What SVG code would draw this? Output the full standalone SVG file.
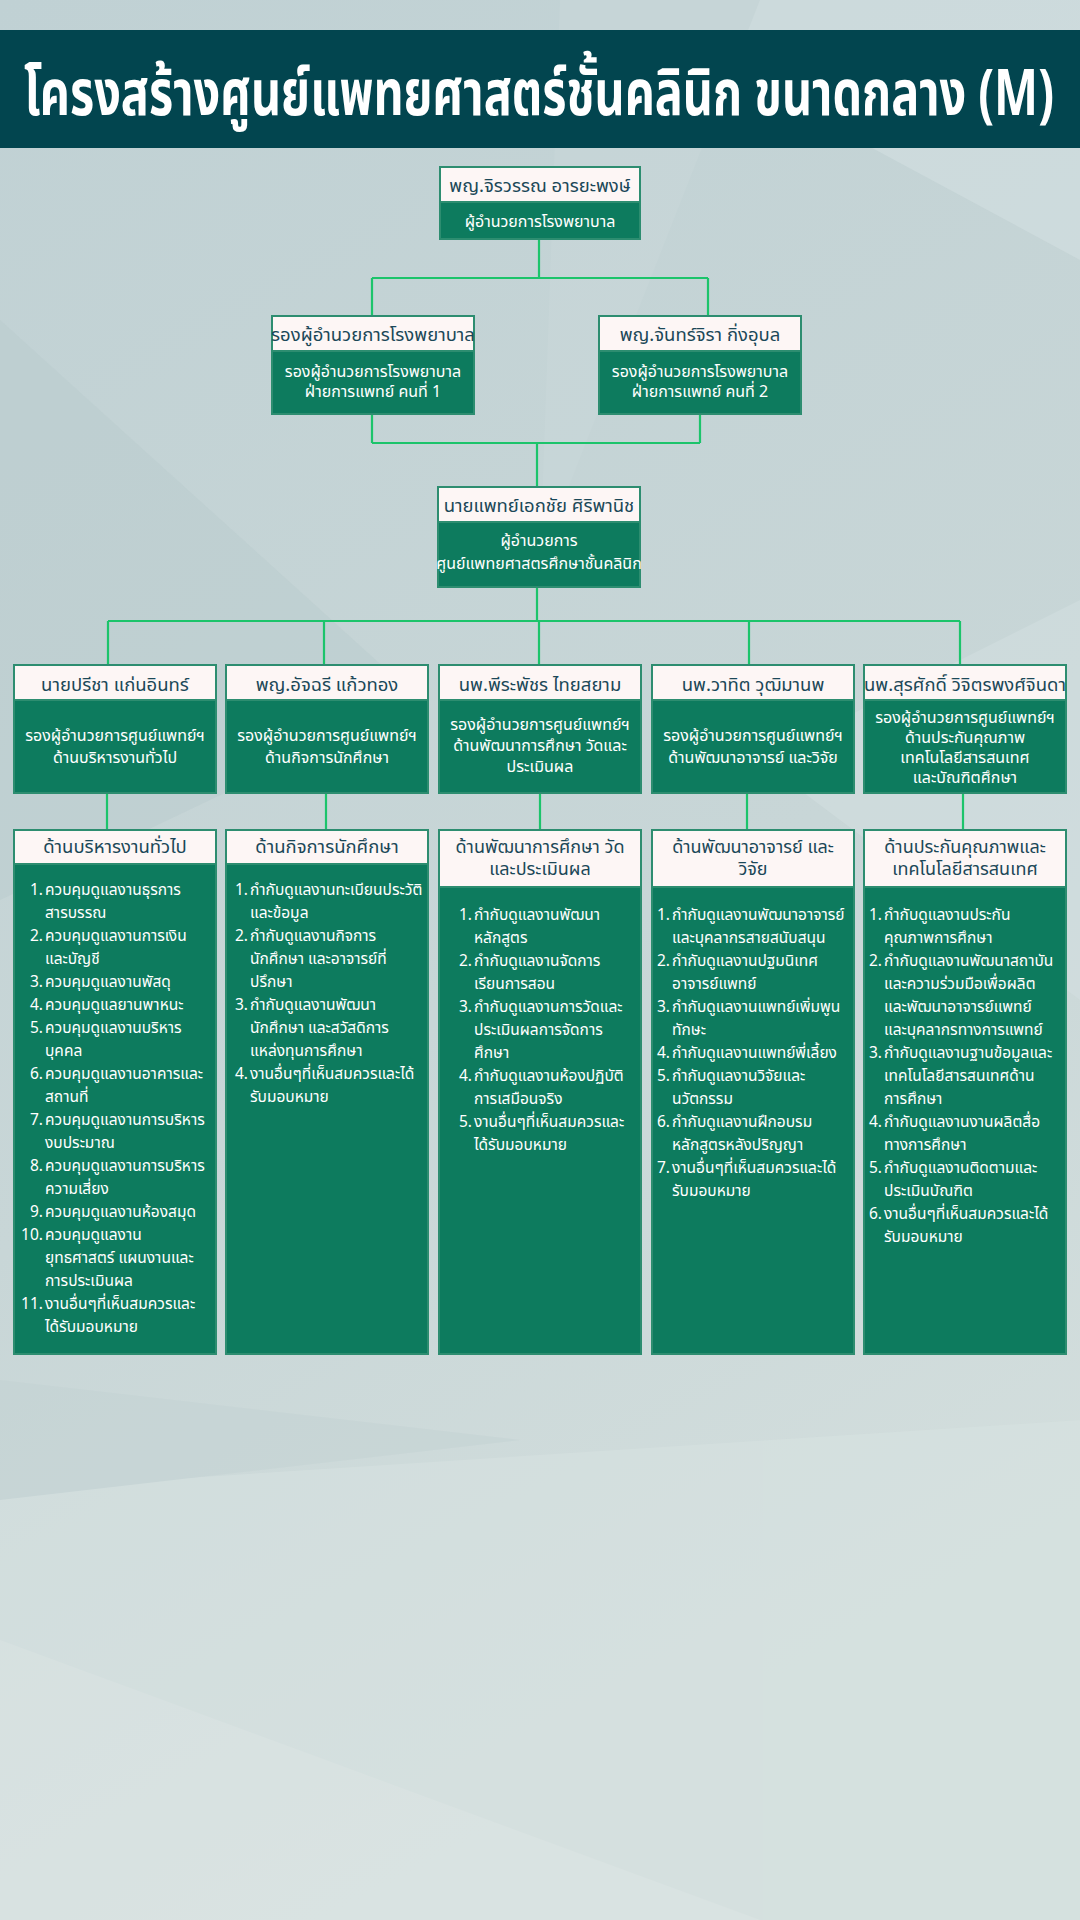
<svg xmlns="http://www.w3.org/2000/svg" width="1080" height="1920" viewBox="0 0 1080 1920">
<defs>
<linearGradient id="bg" x1="0" y1="0" x2="0.3" y2="1">
<stop offset="0" stop-color="#c0d1d4"/>
<stop offset="0.6" stop-color="#c8d6d7"/>
<stop offset="1" stop-color="#d3dedd"/>
</linearGradient>
<style>
text{font-family:"Noto Sans Thai","Noto Sans","DejaVu Sans",sans-serif}
.frame{fill:#0d7b5e;stroke:#2d8d70;stroke-width:2}
.hdr{fill:#fdf6f5;stroke:#2d8d70;stroke-width:2}
.name{font-size:18.5px;fill:#1b4858;text-anchor:middle}
.name2{font-size:18px;fill:#1b4858;text-anchor:middle}
.role{font-size:16px;fill:#ffffff;text-anchor:middle}
.li{font-size:15.5px;fill:#ffffff}
.num{text-anchor:end}
.conn{stroke:#1cc46b;stroke-width:2.2;fill:none}
</style>
</defs>
<rect width="1080" height="1920" fill="url(#bg)"/>
<g id="background-facets" opacity="0.5">
<polygon points="640,0 1080,0 1080,260 820,120" fill="#d6e2e3"/>
<polygon points="0,320 420,700 0,900" fill="#b9cbce"/>
<polygon points="560,0 760,0 540,560" fill="#cad8da"/>
<polygon points="1080,600 1080,1000 760,760" fill="#d4e0e1"/>
<polygon points="0,1490 1080,1420 1080,1920 0,1920" fill="#d8e3e2"/>
<polygon points="0,1640 760,1920 0,1920" fill="#e0e8e7"/>
<polygon points="0,1380 520,1440 0,1500" fill="#c4d3d4"/>
</g>
<g id="title">
<rect x="0" y="30" width="1080" height="118" fill="#02454f"/>
<text x="24" y="115" font-size="64" font-weight="bold" fill="#ffffff" textLength="1030" lengthAdjust="spacingAndGlyphs">โครงสร้างศูนย์แพทยศาสตร์ชั้นคลินิก ขนาดกลาง (M)</text>
</g>
<g id="connectors">
<path class="conn" d="M539,240 V278 M372,278 H708 M372,278 V316 M708,278 V316"/>
<path class="conn" d="M372,414 V443 M700,414 V443 M372,443 H700 M537,443 V487"/>
<path class="conn" d="M537,587 V621 M108,621 H960 M108,621 V665 M324,621 V665 M539,621 V665 M749,621 V665 M960,621 V665"/>
<path class="conn" d="M107,793 V830 M326,793 V830 M540,793 V830 M747,793 V830 M963,793 V830"/>
</g>
<g id="node-director">
<rect class="frame" x="440" y="167" width="200" height="72"/>
<rect class="hdr" x="440" y="167" width="200" height="35"/>
<text class="name" x="540" y="192">พญ.จิรวรรณ อารยะพงษ์</text>
<text class="role" x="540" y="227">ผู้อำนวยการโรงพยาบาล</text>
</g>
<g id="node-deputy-1">
<rect class="frame" x="272" y="316" width="202" height="98"/>
<rect class="hdr" x="272" y="316" width="202" height="35"/>
<text class="name" x="373" y="341">รองผู้อำนวยการโรงพยาบาล</text>
<text class="role" x="373" y="377">รองผู้อำนวยการโรงพยาบาล</text>
<text class="role" x="373" y="397">ฝ่ายการแพทย์ คนที่ 1</text>
</g>
<g id="node-deputy-2">
<rect class="frame" x="599" y="316" width="202" height="98"/>
<rect class="hdr" x="599" y="316" width="202" height="35"/>
<text class="name" x="700" y="341">พญ.จันทร์จิรา กิ่งอุบล</text>
<text class="role" x="700" y="377">รองผู้อำนวยการโรงพยาบาล</text>
<text class="role" x="700" y="397">ฝ่ายการแพทย์ คนที่ 2</text>
</g>
<g id="node-center-director">
<rect class="frame" x="438" y="487" width="202" height="100"/>
<rect class="hdr" x="438" y="487" width="202" height="35"/>
<text class="name" x="539" y="512">นายแพทย์เอกชัย ศิริพานิช</text>
<text class="role" x="539" y="546">ผู้อำนวยการ</text>
<text class="role" x="539" y="569">ศูนย์แพทยศาสตรศึกษาชั้นคลินิก</text>
</g>
<g id="node-vp-1">
<rect class="frame" x="14" y="665" width="202" height="128"/>
<rect class="hdr" x="14" y="665" width="202" height="35"/>
<text class="name" x="115" y="691">นายปรีชา แก่นอินทร์</text>
<text class="role" x="115" y="741">รองผู้อำนวยการศูนย์แพทย์ฯ</text>
<text class="role" x="115" y="763">ด้านบริหารงานทั่วไป</text>
</g>
<g id="node-vp-2">
<rect class="frame" x="226" y="665" width="202" height="128"/>
<rect class="hdr" x="226" y="665" width="202" height="35"/>
<text class="name" x="327" y="691">พญ.อัจฉรี แก้วทอง</text>
<text class="role" x="327" y="741">รองผู้อำนวยการศูนย์แพทย์ฯ</text>
<text class="role" x="327" y="763">ด้านกิจการนักศึกษา</text>
</g>
<g id="node-vp-3">
<rect class="frame" x="439" y="665" width="202" height="128"/>
<rect class="hdr" x="439" y="665" width="202" height="35"/>
<text class="name" x="540" y="691">นพ.พีระพัชร ไทยสยาม</text>
<text class="role" x="540" y="730">รองผู้อำนวยการศูนย์แพทย์ฯ</text>
<text class="role" x="540" y="751">ด้านพัฒนาการศึกษา วัดและ</text>
<text class="role" x="540" y="772">ประเมินผล</text>
</g>
<g id="node-vp-4">
<rect class="frame" x="652" y="665" width="202" height="128"/>
<rect class="hdr" x="652" y="665" width="202" height="35"/>
<text class="name" x="753" y="691">นพ.วาทิต วุฒิมานพ</text>
<text class="role" x="753" y="741">รองผู้อำนวยการศูนย์แพทย์ฯ</text>
<text class="role" x="753" y="763">ด้านพัฒนาอาจารย์ และวิจัย</text>
</g>
<g id="node-vp-5">
<rect class="frame" x="864" y="665" width="202" height="128"/>
<rect class="hdr" x="864" y="665" width="202" height="35"/>
<text class="name" x="965" y="691" font-size="18">นพ.สุรศักดิ์ วิจิตรพงศ์จินดา</text>
<text class="role" x="965" y="723">รองผู้อำนวยการศูนย์แพทย์ฯ</text>
<text class="role" x="965" y="743">ด้านประกันคุณภาพ</text>
<text class="role" x="965" y="763">เทคโนโลยีสารสนเทศ</text>
<text class="role" x="965" y="783">และบัณฑิตศึกษา</text>
</g>
<g id="node-duty-1">
<rect class="frame" x="14" y="830" width="202" height="524"/>
<rect class="hdr" x="14" y="830" width="202" height="34"/>
<text class="name" x="115" y="853">ด้านบริหารงานทั่วไป</text>
<g class="li">
<text class="num" x="43" y="895">1.</text><text x="45" y="895">ควบคุมดูแลงานธุรการ</text>
<text x="45" y="918">สารบรรณ</text>
<text class="num" x="43" y="941">2.</text><text x="45" y="941">ควบคุมดูแลงานการเงิน</text>
<text x="45" y="964">และบัญชี</text>
<text class="num" x="43" y="987">3.</text><text x="45" y="987">ควบคุมดูแลงานพัสดุ</text>
<text class="num" x="43" y="1010">4.</text><text x="45" y="1010">ควบคุมดูแลยานพาหนะ</text>
<text class="num" x="43" y="1033">5.</text><text x="45" y="1033">ควบคุมดูแลงานบริหาร</text>
<text x="45" y="1056">บุคคล</text>
<text class="num" x="43" y="1079">6.</text><text x="45" y="1079">ควบคุมดูแลงานอาคารและ</text>
<text x="45" y="1102">สถานที่</text>
<text class="num" x="43" y="1125">7.</text><text x="45" y="1125">ควบคุมดูแลงานการบริหาร</text>
<text x="45" y="1148">งบประมาณ</text>
<text class="num" x="43" y="1171">8.</text><text x="45" y="1171">ควบคุมดูแลงานการบริหาร</text>
<text x="45" y="1194">ความเสี่ยง</text>
<text class="num" x="43" y="1217">9.</text><text x="45" y="1217">ควบคุมดูแลงานห้องสมุด</text>
<text class="num" x="43" y="1240">10.</text><text x="45" y="1240">ควบคุมดูแลงาน</text>
<text x="45" y="1263">ยุทธศาสตร์ แผนงานและ</text>
<text x="45" y="1286">การประเมินผล</text>
<text class="num" x="43" y="1309">11.</text><text x="45" y="1309">งานอื่นๆที่เห็นสมควรและ</text>
<text x="45" y="1332">ได้รับมอบหมาย</text>
</g>
</g>
<g id="node-duty-2">
<rect class="frame" x="226" y="830" width="202" height="524"/>
<rect class="hdr" x="226" y="830" width="202" height="34"/>
<text class="name" x="327" y="853">ด้านกิจการนักศึกษา</text>
<g class="li">
<text class="num" x="248" y="895">1.</text><text x="250" y="895">กำกับดูแลงานทะเบียนประวัติ</text>
<text x="250" y="918">และข้อมูล</text>
<text class="num" x="248" y="941">2.</text><text x="250" y="941">กำกับดูแลงานกิจการ</text>
<text x="250" y="964">นักศึกษา และอาจารย์ที่</text>
<text x="250" y="987">ปรึกษา</text>
<text class="num" x="248" y="1010">3.</text><text x="250" y="1010">กำกับดูแลงานพัฒนา</text>
<text x="250" y="1033">นักศึกษา และสวัสดิการ</text>
<text x="250" y="1056">แหล่งทุนการศึกษา</text>
<text class="num" x="248" y="1079">4.</text><text x="250" y="1079">งานอื่นๆที่เห็นสมควรและได้</text>
<text x="250" y="1102">รับมอบหมาย</text>
</g>
</g>
<g id="node-duty-3">
<rect class="frame" x="439" y="830" width="202" height="524"/>
<rect class="hdr" x="439" y="830" width="202" height="57"/>
<text class="name2" x="540" y="853">ด้านพัฒนาการศึกษา วัด</text>
<text class="name2" x="540" y="875">และประเมินผล</text>
<g class="li">
<text class="num" x="472" y="920">1.</text><text x="474" y="920">กำกับดูแลงานพัฒนา</text>
<text x="474" y="943">หลักสูตร</text>
<text class="num" x="472" y="966">2.</text><text x="474" y="966">กำกับดูแลงานจัดการ</text>
<text x="474" y="989">เรียนการสอน</text>
<text class="num" x="472" y="1012">3.</text><text x="474" y="1012">กำกับดูแลงานการวัดและ</text>
<text x="474" y="1035">ประเมินผลการจัดการ</text>
<text x="474" y="1058">ศึกษา</text>
<text class="num" x="472" y="1081">4.</text><text x="474" y="1081">กำกับดูแลงานห้องปฏิบัติ</text>
<text x="474" y="1104">การเสมือนจริง</text>
<text class="num" x="472" y="1127">5.</text><text x="474" y="1127">งานอื่นๆที่เห็นสมควรและ</text>
<text x="474" y="1150">ได้รับมอบหมาย</text>
</g>
</g>
<g id="node-duty-4">
<rect class="frame" x="652" y="830" width="202" height="524"/>
<rect class="hdr" x="652" y="830" width="202" height="57"/>
<text class="name2" x="753" y="853">ด้านพัฒนาอาจารย์ และ</text>
<text class="name2" x="753" y="875">วิจัย</text>
<g class="li">
<text class="num" x="670" y="920">1.</text><text x="672" y="920">กำกับดูแลงานพัฒนาอาจารย์</text>
<text x="672" y="943">และบุคลากรสายสนับสนุน</text>
<text class="num" x="670" y="966">2.</text><text x="672" y="966">กำกับดูแลงานปฐมนิเทศ</text>
<text x="672" y="989">อาจารย์แพทย์</text>
<text class="num" x="670" y="1012">3.</text><text x="672" y="1012">กำกับดูแลงานแพทย์เพิ่มพูน</text>
<text x="672" y="1035">ทักษะ</text>
<text class="num" x="670" y="1058">4.</text><text x="672" y="1058">กำกับดูแลงานแพทย์พี่เลี้ยง</text>
<text class="num" x="670" y="1081">5.</text><text x="672" y="1081">กำกับดูแลงานวิจัยและ</text>
<text x="672" y="1104">นวัตกรรม</text>
<text class="num" x="670" y="1127">6.</text><text x="672" y="1127">กำกับดูแลงานฝึกอบรม</text>
<text x="672" y="1150">หลักสูตรหลังปริญญา</text>
<text class="num" x="670" y="1173">7.</text><text x="672" y="1173">งานอื่นๆที่เห็นสมควรและได้</text>
<text x="672" y="1196">รับมอบหมาย</text>
</g>
</g>
<g id="node-duty-5">
<rect class="frame" x="864" y="830" width="202" height="524"/>
<rect class="hdr" x="864" y="830" width="202" height="57"/>
<text class="name2" x="965" y="853">ด้านประกันคุณภาพและ</text>
<text class="name2" x="965" y="875">เทคโนโลยีสารสนเทศ</text>
<g class="li">
<text class="num" x="882" y="920">1.</text><text x="884" y="920">กำกับดูแลงานประกัน</text>
<text x="884" y="943">คุณภาพการศึกษา</text>
<text class="num" x="882" y="966">2.</text><text x="884" y="966">กำกับดูแลงานพัฒนาสถาบัน</text>
<text x="884" y="989">และความร่วมมือเพื่อผลิต</text>
<text x="884" y="1012">และพัฒนาอาจารย์แพทย์</text>
<text x="884" y="1035">และบุคลากรทางการแพทย์</text>
<text class="num" x="882" y="1058">3.</text><text x="884" y="1058">กำกับดูแลงานฐานข้อมูลและ</text>
<text x="884" y="1081">เทคโนโลยีสารสนเทศด้าน</text>
<text x="884" y="1104">การศึกษา</text>
<text class="num" x="882" y="1127">4.</text><text x="884" y="1127">กำกับดูแลงานงานผลิตสื่อ</text>
<text x="884" y="1150">ทางการศึกษา</text>
<text class="num" x="882" y="1173">5.</text><text x="884" y="1173">กำกับดูแลงานติดตามและ</text>
<text x="884" y="1196">ประเมินบัณฑิต</text>
<text class="num" x="882" y="1219">6.</text><text x="884" y="1219">งานอื่นๆที่เห็นสมควรและได้</text>
<text x="884" y="1242">รับมอบหมาย</text>
</g>
</g>
</svg>
